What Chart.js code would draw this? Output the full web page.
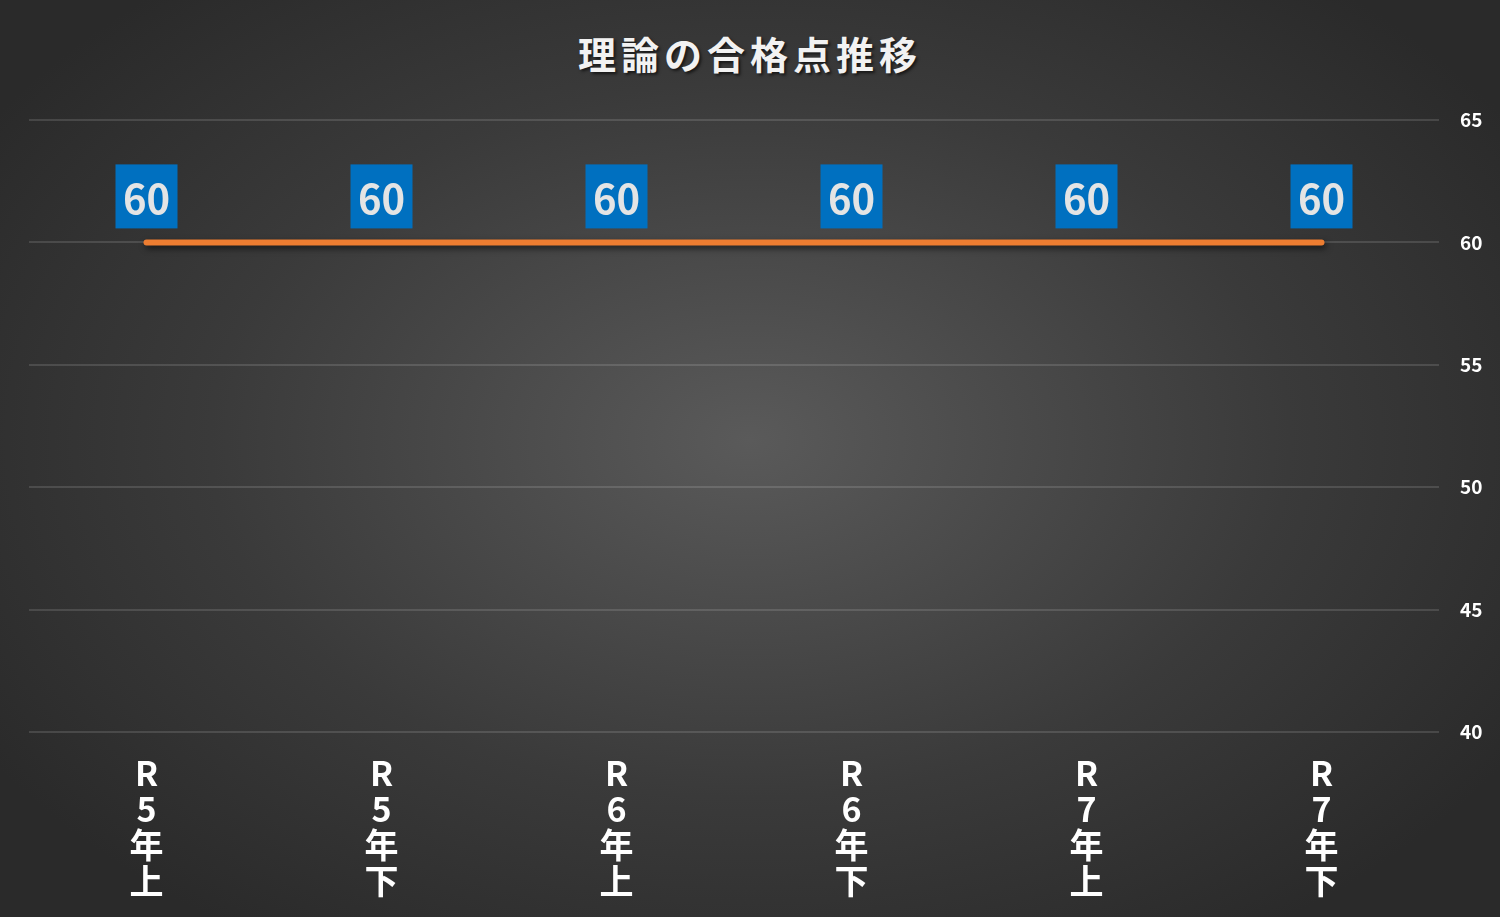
<!DOCTYPE html>
<html lang="ja">
<head>
<meta charset="utf-8">
<script src="https://cdn.jsdelivr.net/npm/chart.js@4"></script>
<style>
  html, body { margin: 0; padding: 0; }
  body {
    width: 1500px; height: 917px; overflow: hidden; position: relative;
    background: radial-gradient(ellipse 60% 65% at 50% 48%, #5a5a5a 0%, #3a3a3a 60%, #2a2a2a 100%);
    font-family: "Noto Sans CJK JP", "Noto Sans", sans-serif;
  }
  #title {
    position: absolute; left: 0; right: 0; top: 26px; margin: 0;
    text-align: center; color: #f2f2f2; font-size: 38px; font-weight: bold;
    letter-spacing: 5px; line-height: 54px;
    text-shadow: 2px 2px 3px rgba(0,0,0,0.6);
  }
  #wrap { position: absolute; left: 0; top: 0; width: 1500px; height: 917px; }
</style>
</head>
<body>
<h1 id="title">理論の合格点推移</h1>
<div id="wrap"><canvas id="chart"></canvas></div>
<script>
  // ===== data =====
  const periods = [
    ["R", "5", "年", "上"],
    ["R", "5", "年", "下"],
    ["R", "6", "年", "上"],
    ["R", "6", "年", "下"],
    ["R", "7", "年", "上"],
    ["R", "7", "年", "下"]
  ];
  const passMark = [60, 60, 60, 60, 60, 60];
  const yTicks = [40, 45, 50, 55, 60, 65];

  const FONT = '"Noto Sans CJK JP", "Noto Sans", sans-serif';

  // blue value boxes above each point
  const valueBoxes = {
    id: "valueBoxes",
    afterDatasetsDraw(chart) {
      const ctx = chart.ctx;
      const meta = chart.getDatasetMeta(0);
      ctx.save();
      meta.data.forEach((pt, i) => {
        const cx = pt.x, cy = pt.y - 46;
        ctx.fillStyle = "#0070C0";
        ctx.fillRect(cx - 31, cy - 32, 62, 64);
        ctx.fillStyle = "#e4e4e4";
        ctx.font = "bold 40px " + FONT;
        ctx.textAlign = "center";
        ctx.textBaseline = "middle";
        ctx.fillText(String(passMark[i]), cx, cy + 2);
      });
      ctx.restore();
    }
  };

  // soft shadow under the line
  const lineShadow = {
    id: "lineShadow",
    beforeDatasetDraw(chart) {
      const ctx = chart.ctx;
      ctx.save();
      ctx.shadowColor = "rgba(0,0,0,0.6)";
      ctx.shadowBlur = 6;
      ctx.shadowOffsetX = 2;
      ctx.shadowOffsetY = 3;
    },
    afterDatasetDraw(chart) {
      chart.ctx.restore();
    }
  };

  new Chart(document.getElementById("chart"), {
    type: "line",
    data: {
      labels: periods,
      datasets: [{
        label: "合格点",
        data: passMark,
        borderColor: "#ED7D31",
        borderWidth: 6,
        borderCapStyle: "round",
        pointRadius: 0,
        tension: 0
      }]
    },
    options: {
      responsive: true,
      maintainAspectRatio: false,
      animation: false,
      layout: { padding: { left: 29, right: 0, top: 120, bottom: 0 } },
      plugins: {
        legend: { display: false },
        tooltip: { enabled: false }
      },
      scales: {
        x: {
          offset: true,
          grid: { display: false, drawTicks: false },
          border: { display: false },
          afterFit: s => { s.height = 185; },
          ticks: {
            color: "#ffffff",
            padding: 23,
            maxRotation: 0,
            autoSkip: false,
            font: { family: FONT, size: 34, weight: "bold", lineHeight: "36px" }
          }
        },
        y: {
          position: "right",
          min: 40,
          max: 65,
          afterFit: s => { s.width = 61; },
          afterBuildTicks: s => { s.ticks = yTicks.map(v => ({ value: v })); },
          grid: { color: "rgba(255,255,255,0.13)", lineWidth: 2, drawTicks: false },
          border: { display: false },
          ticks: {
            color: "#ffffff",
            padding: 21,
            font: { family: FONT, size: 19, weight: "bold" }
          }
        }
      }
    },
    plugins: [lineShadow, valueBoxes]
  });
</script>
</body>
</html>
